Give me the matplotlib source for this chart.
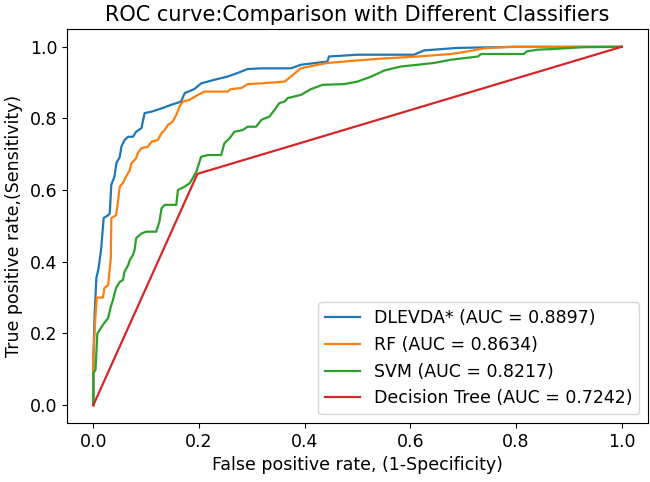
import matplotlib
matplotlib.use('Agg')
import matplotlib.pyplot as plt

# values
dlevda_fpr = [0, 0, 0.0025, 0.0057, 0.010, 0.015, 0.0195, 0.028, 0.031, 0.034,
              0.040, 0.0435, 0.050, 0.053, 0.059, 0.066, 0.075, 0.081, 0.091, 0.097,
              0.11, 0.129, 0.147, 0.166, 0.173, 0.191, 0.204, 0.229, 0.254, 0.273,
              0.292, 0.318, 0.374, 0.393, 0.443, 0.446, 0.50, 0.607, 0.626, 0.689,
              0.80, 1.0]
dlevda_tpr = [0, 0.135, 0.256, 0.355, 0.383, 0.44, 0.522, 0.53, 0.535, 0.615,
              0.638, 0.675, 0.693, 0.721, 0.74, 0.749, 0.749, 0.763, 0.773, 0.815,
              0.819, 0.828, 0.838, 0.847, 0.871, 0.882, 0.898, 0.908, 0.917, 0.927,
              0.938, 0.94, 0.94, 0.95, 0.959, 0.973, 0.978, 0.978, 0.99, 0.997,
              1.0, 1.0]

rf_fpr = [0, 0, 0.004, 0.0065, 0.018, 0.021, 0.028, 0.033, 0.034, 0.043,
          0.047, 0.050, 0.056, 0.062, 0.069, 0.072, 0.081, 0.084, 0.091, 0.103,
          0.11, 0.122, 0.129, 0.135, 0.141, 0.15, 0.157, 0.163, 0.169, 0.182,
          0.198, 0.21, 0.254, 0.26, 0.28, 0.292, 0.318, 0.362, 0.374, 0.393,
          0.425, 0.443, 0.50, 0.544, 0.614, 0.677, 0.708, 0.74, 0.79, 1.0]
rf_tpr = [0, 0.13, 0.25, 0.30, 0.30, 0.327, 0.335, 0.41, 0.522, 0.53,
          0.573, 0.61, 0.62, 0.638, 0.656, 0.675, 0.689, 0.703, 0.717, 0.721,
          0.735, 0.74, 0.759, 0.768, 0.782, 0.791, 0.81, 0.833, 0.847, 0.852,
          0.866, 0.875, 0.875, 0.882, 0.885, 0.896, 0.898, 0.903, 0.917, 0.94,
          0.95, 0.955, 0.962, 0.967, 0.973, 0.98, 0.987, 0.996, 1.0, 1.0]

svm_fpr = [0, 0, 0.004, 0.0075, 0.012, 0.021, 0.028, 0.033, 0.037, 0.043,
           0.05, 0.056, 0.059, 0.066, 0.069, 0.075, 0.078, 0.081, 0.091, 0.1,
           0.119, 0.125, 0.129, 0.135, 0.157, 0.16, 0.173, 0.182, 0.188, 0.195,
           0.204, 0.217, 0.242, 0.248, 0.258, 0.267, 0.283, 0.292, 0.308, 0.318,
           0.324, 0.333, 0.343, 0.352, 0.362, 0.368, 0.393, 0.412, 0.434, 0.475,
           0.50, 0.526, 0.551, 0.582, 0.614, 0.645, 0.677, 0.728, 0.734, 0.815,
           0.82, 0.84, 0.871, 0.928, 1.0]
svm_tpr = [0, 0.09, 0.098, 0.2, 0.21, 0.23, 0.243, 0.275, 0.293, 0.327,
           0.344, 0.349, 0.372, 0.391, 0.405, 0.419, 0.433, 0.466, 0.479, 0.484,
           0.484, 0.512, 0.549, 0.559, 0.559, 0.60, 0.61, 0.619, 0.633, 0.652,
           0.693, 0.698, 0.698, 0.731, 0.745, 0.763, 0.768, 0.777, 0.777, 0.796,
           0.80, 0.805, 0.824, 0.843, 0.847, 0.857, 0.866, 0.882, 0.894, 0.896,
           0.903, 0.917, 0.934, 0.945, 0.95, 0.955, 0.964, 0.973, 0.98, 0.98,
           0.987, 0.992, 0.994, 0.999, 1.0]

dt_fpr = [0, 0.197, 1.0]
dt_tpr = [0, 0.6454, 1.0]

labels = ['DLEVDA* (AUC = 0.8897)', 'RF (AUC = 0.8634)',
          'SVM (AUC = 0.8217)', 'Decision Tree (AUC = 0.7242)']

plt.rcParams['font.size'] = 12.5
plt.rcParams['axes.titlesize'] = 15

fig = plt.figure(figsize=(6.5, 4.82), dpi=100)
ax = fig.add_axes([0.103, 0.1224, 0.894, 0.8176])

ax.plot(dlevda_fpr, dlevda_tpr, color='#1f77b4', lw=1.6, label=labels[0])
ax.plot(rf_fpr, rf_tpr, color='#ff7f0e', lw=1.6, label=labels[1])
ax.plot(svm_fpr, svm_tpr, color='#2ca02c', lw=1.6, label=labels[2])
ax.plot(dt_fpr, dt_tpr, color='#d62728', lw=1.6, label=labels[3])

ax.set_xlabel('False positive rate, (1-Specificity)')
ax.set_ylabel('True positive rate,(Sensitivity)', labelpad=5)
ax.set_title('ROC curve:Comparison with Different Classifiers')
ax.legend(loc='lower right')

fig.savefig('out.png', dpi=100)
